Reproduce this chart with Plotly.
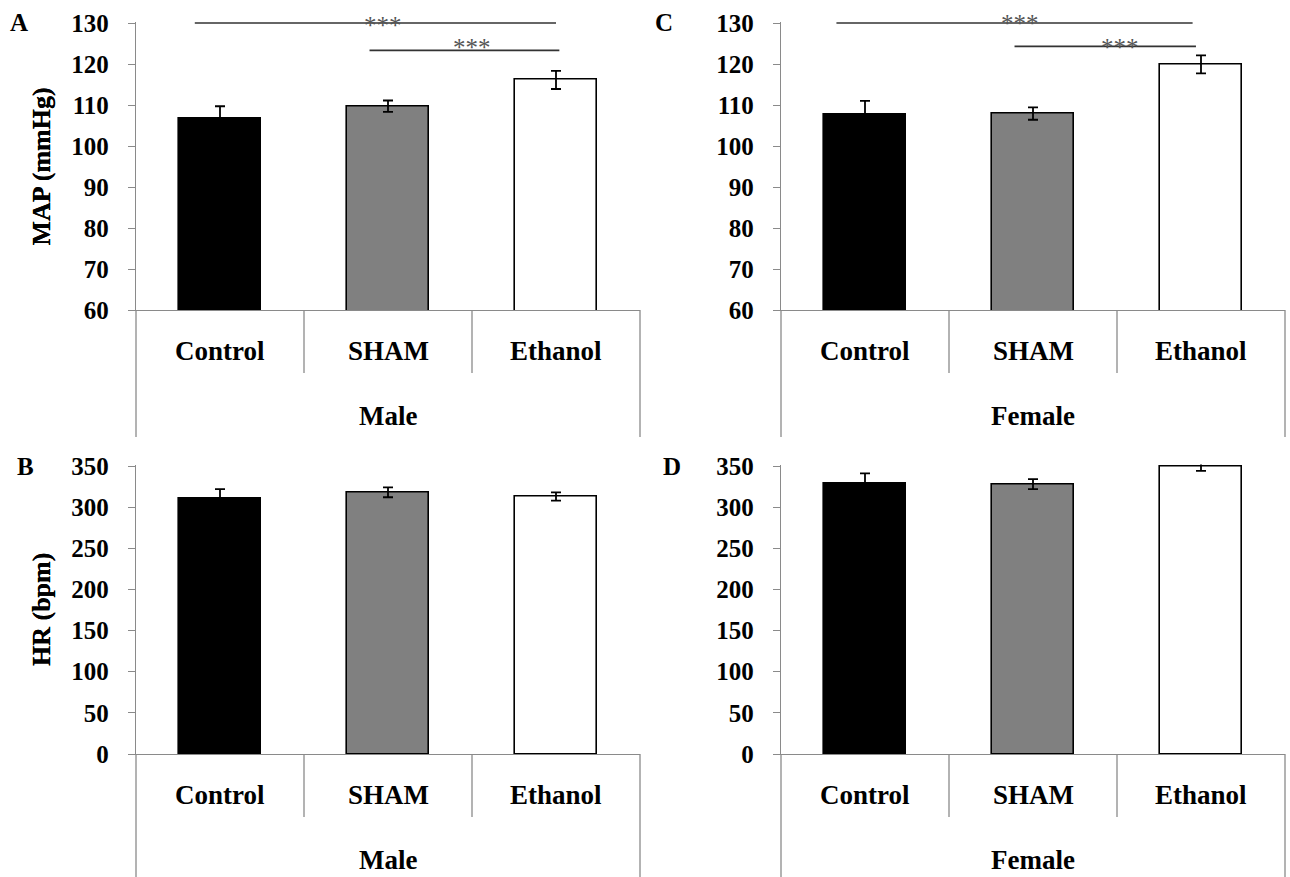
import plotly.graph_objects as go

# ---------------- data ----------------
categories = ["Control", "SHAM", "Ethanol"]
map_male = [106.8, 109.7, 116.1]
map_male_err = [2.9, 1.4, 2.2]
map_female = [107.6, 107.9, 119.9]
map_female_err = [3.4, 1.5, 2.2]
hr_male = [310, 318, 313]
hr_male_err = [12, 6, 5]
hr_female = [329, 328, 350]
hr_female_err = [12, 6, 6]
bar_colors = ["#000000", "#808080", "#ffffff"]

# significance brackets: (start category pos, end category pos, level, star pos, star lift px)
sig_male = [(-0.15, 2.0, 130.0, 0.97, -2), (0.89, 2.02, 123.3, 1.5, 3)]
sig_female = [(-0.17, 1.95, 130.0, 0.92, 0), (0.89, 1.97, 124.3, 1.52, -1)]

FONT = "Liberation Serif"
AXCOL = "#8a8a8a"
W, H = 1290, 877
TOP_PAD_PX = 1.5  # keeps the outline of a bar reaching the top of the range visible

panels = [
    # (letter, yvals, errs, group, ytitle, yrange, dtick, axis id, x px span, y px span (top, bottom), letter offset, sig)
    ("A", map_male, map_male_err, "Male", "MAP (mmHg)", [60, 130], 10, "", (136, 640), (23, 310), 117, sig_male),
    ("C", map_female, map_female_err, "Female", "MAP (mmHg)", [60, 130], 10, "2", (781, 1285), (23, 310), 117, sig_female),
    ("B", hr_male, hr_male_err, "Male", "HR (bpm)", [0, 350], 50, "3", (136, 640), (466, 754), 111, []),
    ("D", hr_female, hr_female_err, "Female", "HR (bpm)", [0, 350], 50, "4", (781, 1285), (466, 754), 109, []),
]

fig = go.Figure()
shapes = []
annotations = []
layout = {}

for letter, yv, ev, group, ytitle, yrange, dtick, ax, xpx, ypx, loff, sig in panels:
    xname = "x" + ax
    yname = "y" + ax
    span_px = ypx[1] - ypx[0]
    units_per_px = (yrange[1] - yrange[0]) / span_px
    rng = [yrange[0], yrange[1] + TOP_PAD_PX * units_per_px]
    xdom = [xpx[0] / W, xpx[1] / W]
    ydom = [1 - ypx[1] / H, 1 - (ypx[0] - TOP_PAD_PX) / H]
    dh = span_px + TOP_PAD_PX

    fig.add_trace(go.Bar(
        x=categories, y=yv,
        xaxis=xname, yaxis=yname,
        width=0.49,
        marker=dict(color=bar_colors, line=dict(color="#000000", width=1.6)),
        error_y=dict(type="data", array=ev, visible=True, color="#000000", thickness=1.8, width=5),
        showlegend=False,
    ))
    layout["xaxis" + ax] = dict(
        domain=xdom, anchor=yname, type="category", range=[-0.5, 2.5], automargin=False,
        showticklabels=False, ticks="", showgrid=False, zeroline=False,
        showline=True, linecolor=AXCOL, linewidth=1.3,
    )
    layout["yaxis" + ax] = dict(
        domain=ydom, anchor=xname, range=rng, tick0=yrange[0], dtick=dtick, automargin=False,
        showgrid=False, zeroline=False, showline=True, linecolor=AXCOL, linewidth=1.3,
        ticks="outside", ticklen=7, tickcolor=AXCOL, tickwidth=1.3, ticklabelstandoff=14,
        tickfont=dict(family=FONT, size=25, color="#000000", weight="bold"),
    )
    xd, yd = xname + " domain", yname + " domain"
    # category box lines
    for xpos, depth in [(0, 127), (1 / 3, 63), (2 / 3, 63), (1, 127)]:
        shapes.append(dict(type="line", xref=xd, yref=yd, x0=xpos, x1=xpos, y0=0, y1=-depth / dh,
                           line=dict(color=AXCOL, width=1.3)))
    for c in categories:
        annotations.append(dict(text=c, x=c, xref=xname, y=-41 / dh, yref=yd, showarrow=False,
                                yanchor="middle", font=dict(family=FONT, size=27, color="#000", weight="bold")))
    annotations.append(dict(text=group, x=0.5, xref=xd, y=-106 / dh, yref=yd, showarrow=False,
                            yanchor="middle", font=dict(family=FONT, size=27, color="#000", weight="bold")))
    # y-axis title
    annotations.append(dict(text=ytitle, x=41 / W, xref="paper", y=(span_px / 2) / dh, yref=yd, textangle=-90,
                            showarrow=False, xanchor="center", yanchor="middle",
                            font=dict(family=FONT, size=26, color="#000", weight="bold")))
    # panel letter
    annotations.append(dict(text=letter, x=(xpx[0] - loff) / W, xref="paper", y=1 - ypx[0] / H, yref="paper",
                            showarrow=False, xanchor="center", yanchor="middle",
                            font=dict(family=FONT, size=25, color="#000", weight="bold")))
    # significance brackets
    for x0, x1, lvl, sx, lift in sig:
        yfrac = (lvl - rng[0]) / (rng[1] - rng[0])
        shapes.append(dict(type="line", xref=xd, yref=yd, x0=(x0 + 0.5) / 3, x1=(x1 + 0.5) / 3,
                           y0=yfrac, y1=yfrac, line=dict(color="#333333", width=1.7)))
        annotations.append(dict(text="***", x=(sx + 0.5) / 3, xref=xd, y=yfrac, yref=yd, showarrow=False,
                                xanchor="center", yanchor="middle", yshift=lift,
                                font=dict(family=FONT, size=25, color="#555555")))

fig.update_layout(
    width=W, height=H, margin=dict(l=0, r=0, t=0, b=0, autoexpand=False),
    paper_bgcolor="white", plot_bgcolor="white",
    shapes=shapes, annotations=annotations, bargap=0, **layout,
)

fig.write_html("out.html")
